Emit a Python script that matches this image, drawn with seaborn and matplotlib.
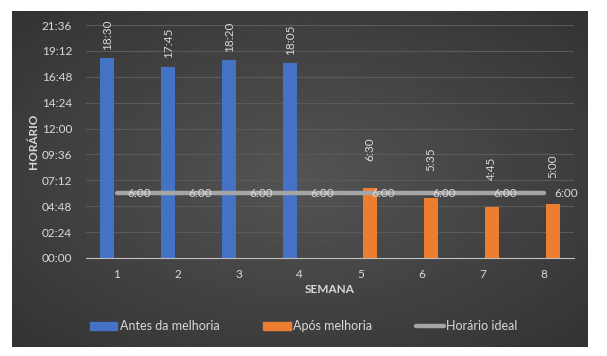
import numpy as np
import pandas as pd
import seaborn as sns
import matplotlib
matplotlib.use('Agg')
import matplotlib.pyplot as plt
from matplotlib.patches import Patch
from matplotlib.lines import Line2D

# dados do grafico
semanas = ['1', '2', '3', '4', '5', '6', '7', '8']
semanas_antes = ['1', '2', '3', '4']
antes = ['18:30', '17:45', '18:20', '18:05']
semanas_apos = ['5', '6', '7', '8']
apos = ['6:30', '5:35', '4:45', '5:00']
ideal = ['6:00'] * 8
yticks = ['00:00', '02:24', '04:48', '07:12', '09:36', '12:00',
          '14:24', '16:48', '19:12', '21:36']


def horas(s):
    h, m = s.split(':')
    return int(h) + int(m) / 60


df = pd.DataFrame({
    'semana': semanas_antes + semanas_apos,
    'horas': [horas(v) for v in antes + apos],
    'serie': ['Antes da melhoria'] * 4 + ['Após melhoria'] * 4,
})

sns.set_style('dark')
plt.rcParams['font.family'] = ['Lato', 'DejaVu Sans']
txt = '#d9d9d9'
fs = 8.5

fig = plt.figure(figsize=(6.07, 3.56), dpi=100, facecolor='white')

# fundo escuro com gradiente
bg = fig.add_axes([12 / 607, 9 / 356, 576 / 607, 336 / 356], zorder=-1)
yy, xx = np.mgrid[-1:1:200j, -1:1:300j]
r = np.sqrt(xx ** 2 + yy ** 2) / np.sqrt(2)
bg.imshow(0.33 - 0.13 * r, cmap='gray', vmin=0, vmax=1, aspect='auto',
          extent=[0, 1, 0, 1])
bg.axis('off')

ax = fig.add_axes([86 / 607, 1 - 258 / 356, 488 / 607, 233 / 356])
ax.set_facecolor('none')

sns.barplot(data=df, x='semana', y='horas', hue='serie', order=semanas,
            hue_order=['Antes da melhoria', 'Após melhoria'],
            palette={'Antes da melhoria': '#4472C4', 'Após melhoria': '#ED7D31'},
            dodge=True, width=0.6, gap=0.23, saturation=1, legend=False,
            linewidth=0, ax=ax, zorder=2)

ax.bar_label(ax.containers[0], labels=antes, rotation=90, padding=6,
             color=txt, fontsize=fs)
ax.bar_label(ax.containers[1], labels=apos, rotation=90, padding=19,
             color=txt, fontsize=fs)

x_ideal = np.arange(len(semanas))
y_ideal = [horas(v) for v in ideal]
sns.lineplot(x=x_ideal, y=y_ideal, color='#A5A5A5', linewidth=3.2, ax=ax,
             zorder=3, solid_capstyle='round')
for xi, yi, lab in zip(x_ideal, y_ideal, ideal):
    ax.annotate(lab, (xi, yi), xytext=(8, 0), textcoords='offset points',
                va='center', ha='left', color=txt, fontsize=fs, zorder=4)

ax.set_ylim(0, 21.6)
ax.set_xlim(-0.5, 7.5)
ax.set_yticks([horas(t) for t in yticks])
ax.set_yticklabels(yticks)
ax.tick_params(axis='both', colors=txt, labelsize=fs, length=0)
ax.tick_params(axis='y', pad=10)
ax.tick_params(axis='x', pad=8)
ax.grid(axis='y', color='#5a5a5a', linewidth=0.8)
ax.grid(axis='x', visible=False)
for s in ['top', 'right', 'left']:
    ax.spines[s].set_visible(False)
ax.spines['bottom'].set_color('#bfbfbf')
ax.spines['bottom'].set_zorder(5)

ax.set_xlabel('SEMANA', color=txt, fontsize=fs, fontweight='bold', labelpad=3)
ax.set_ylabel('HORÁRIO', color=txt, fontsize=fs, fontweight='bold', labelpad=2)

handles = [Patch(color='#4472C4'), Patch(color='#ED7D31'),
           Line2D([], [], color='#A5A5A5', linewidth=3.2)]
fig.legend(handles, ['Antes da melhoria', 'Após melhoria', 'Horário ideal'],
           loc='center', bbox_to_anchor=(0.5, 1 - 326 / 356), ncol=3,
           frameon=False, fontsize=9, labelcolor=txt, handlelength=2.2,
           handleheight=0.6, handletextpad=0.2, columnspacing=3.5)

fig.savefig('out.png', dpi=100, facecolor='white')
